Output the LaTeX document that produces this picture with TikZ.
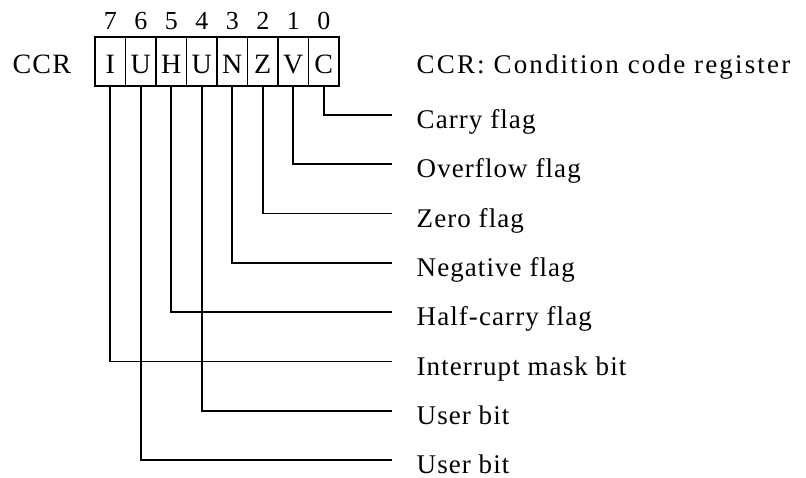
\documentclass[tikz,border=0pt]{standalone}
\usepackage{fontspec}
\setmainfont{Liberation Serif}
\newfontfamily\lblfont[LetterSpace=4]{Liberation Serif}
\newfontfamily\titlefont[LetterSpace=8]{Liberation Serif}
\begin{document}
\begin{tikzpicture}[x=1pt,y=-1pt,
  cell/.style={draw, line width=1.7pt, minimum width=30.5pt, minimum height=48.7pt, inner sep=0pt},
  bitlet/.style={anchor=base, inner sep=0pt, font=\fontsize{28}{28}\selectfont},
  digit/.style={anchor=base, inner sep=0pt, font=\fontsize{26}{26}\selectfont},
  lbl/.style={anchor=base west, inner sep=0pt, font=\lblfont\fontsize{27}{27}\selectfont},
  conn/.style={line width=1.7pt}]
\useasboundingbox (0,0) rectangle (806,478);

% register cells
\foreach \i/\t/\xx in {7/I/110.25, 6/U/140.75, 5/H/171.25, 4/U/201.75, 3/N/232.25, 2/Z/262.75, 1/V/293.25, 0/C/323.75} {
  \node[cell] (c\i) at (\xx,61.65) {};
  \node[bitlet] (t\i) at (\xx,74) {\t};
  \node[digit] (d\i) at (\xx,29.3) {\i};
}

\node[lbl, font=\lblfont\fontsize{28}{28}\selectfont] (ccr) at (12.5,74) {CCR};
\node[anchor=base west, inner sep=0pt, font=\titlefont\fontsize{27}{27}\selectfont] (title) at (416.5,74) {CCR: Condition code register};

% connector ends
\coordinate (e0) at (391.7,115);
\coordinate (e1) at (391.7,164.3);
\coordinate (e2) at (391.7,213.6);
\coordinate (e3) at (391.7,262.9);
\coordinate (e5) at (391.7,312.2);
\coordinate (e7) at (391.7,361.5);
\coordinate (e4) at (391.7,410.8);
\coordinate (e6) at (391.7,460.1);

\foreach \i in {0,1,2,3,5,7,4,6} {
  \draw[conn] (c\i.south) |- (e\i);
}

% labels
\node[lbl] (l0) at (416.5,128.7) {Carry flag};
\node[lbl] (l1) at (416.5,178) {Overflow flag};
\node[lbl] (l2) at (416.5,227.3) {Zero flag};
\node[lbl] (l3) at (416.5,276.6) {Negative flag};
\node[lbl] (l5) at (416.5,325.9) {Half-carry flag};
\node[lbl] (l7) at (416.5,375.2) {Interrupt mask bit};
\node[lbl] (l4) at (416.5,424.5) {User bit};
\node[lbl] (l6) at (416.5,473.2) {User bit};
\end{tikzpicture}
\end{document}
